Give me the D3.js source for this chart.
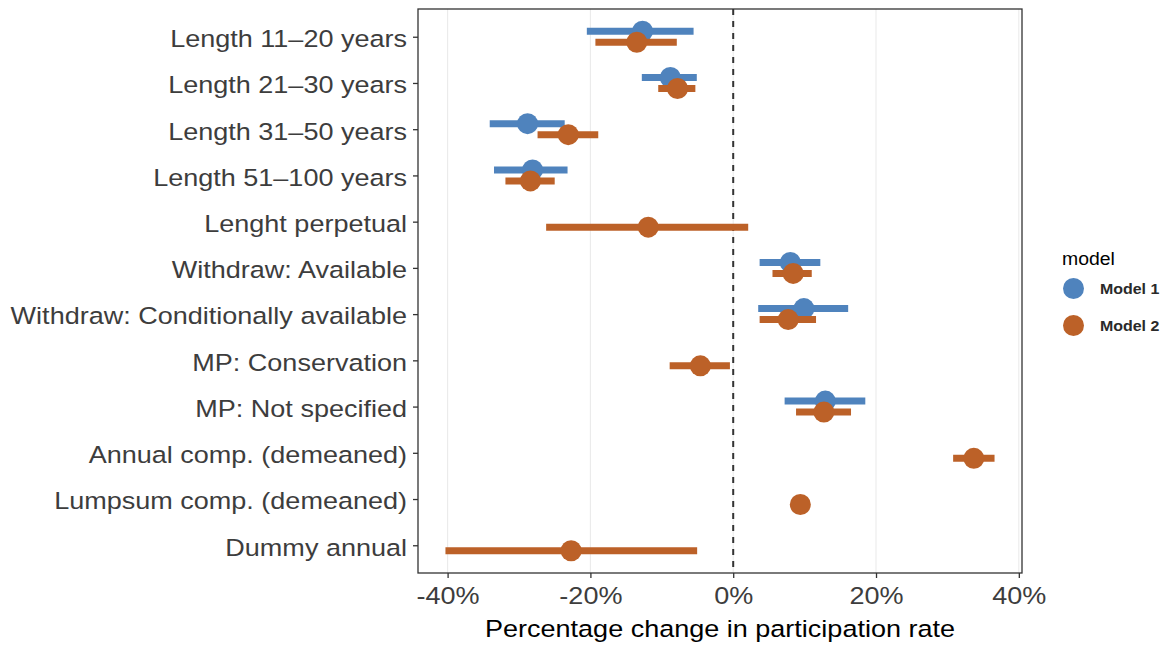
<!DOCTYPE html>
<html>
<head>
<meta charset="utf-8">
<script src="https://cdn.jsdelivr.net/npm/d3@7"></script>
<style>
  html, body { margin: 0; padding: 0; background: #fff; }
  text { font-family: "Liberation Sans", Arial, sans-serif; }
</style>
</head>
<body>
<svg id="chart" width="1165" height="645"></svg>
<script>
const categories = [
  "Length 11–20 years", "Length 21–30 years", "Length 31–50 years", "Length 51–100 years",
  "Lenght perpetual", "Withdraw: Available", "Withdraw: Conditionally available",
  "MP: Conservation", "MP: Not specified", "Annual comp. (demeaned)",
  "Lumpsum comp. (demeaned)", "Dummy annual"
];
const models = ["Model 1", "Model 2"];
const model1Est  = [-12.7, -8.8, -28.8, -28.1, null, 8.0, 9.9, null, 12.9, null, null, null];
const model1Low  = [-20.5, -12.8, -34.1, -33.5, null, 3.7, 3.5, null, 7.2, null, null, null];
const model1High = [-5.55, -5.1, -23.6, -23.2, null, 12.2, 16.1, null, 18.5, null, null, null];
const model2Est  = [-13.5, -7.8, -23.1, -28.4, -11.9, 8.4, 7.7, -4.6, 12.7, 33.7, 9.4, -22.7];
const model2Low  = [-19.3, -10.5, -27.4, -31.9, -26.2, 5.5, 3.7, -8.9, 8.8, 30.8, 8.7, -40.3];
const model2High = [-7.9, -5.3, -18.9, -25.0, 2.1, 11.0, 11.6, -0.46, 16.5, 36.6, 10.1, -5.05];
const xTicks = [-40, -20, 0, 20, 40];
const xTitle = "Percentage change in participation rate";
const legendTitle = "model";

const colors = { "Model 1": "#4F83BD", "Model 2": "#BC6128" };

const rows = [];
[[model1Est, model1Low, model1High, "Model 1"], [model2Est, model2Low, model2High, "Model 2"]].forEach(([e, l, h, m]) => {
  categories.forEach((c, i) => {
    if (e[i] !== null) rows.push({ cat: c, model: m, est: e[i], lo: l[i], hi: h[i] });
  });
});

const svg = d3.select("#chart");
svg.append("rect").attr("width", 1165).attr("height", 645).attr("fill", "#fff");

const panel = { left: 418, right: 1022, top: 9, bottom: 573 };
const lo = d3.min(rows, d => d.lo), hi = d3.max(rows, d => d.hi);
const pad = (hi - lo) * 0.05;
const x = d3.scaleLinear().domain([lo - pad, hi + pad]).range([panel.left, panel.right]);
const y = d3.scalePoint().domain(categories).range([panel.top, panel.bottom]).padding(0.6);
const dodge = d3.scalePoint().domain(models).range([-5.5, 5.5]);

const SX = 1.15; // horizontal text stretch of the reference
const FS = "23.5px";

// gridlines
svg.append("g").selectAll("line").data(xTicks).join("line")
  .attr("x1", d => x(d)).attr("x2", d => x(d))
  .attr("y1", panel.top).attr("y2", panel.bottom)
  .attr("stroke", "#ebebeb").attr("stroke-width", 1.1);

// zero reference line
svg.append("line")
  .attr("x1", x(0)).attr("x2", x(0)).attr("y1", panel.top).attr("y2", panel.bottom)
  .attr("stroke", "#333").attr("stroke-width", 2).attr("stroke-dasharray", "6,6");

// pointranges
const g = svg.append("g");
rows.forEach(d => {
  const yy = y(d.cat) + dodge(d.model);
  g.append("line")
    .attr("x1", x(d.lo)).attr("x2", x(d.hi)).attr("y1", yy).attr("y2", yy)
    .attr("stroke", colors[d.model]).attr("stroke-width", 7);
  g.append("circle")
    .attr("cx", x(d.est)).attr("cy", yy).attr("r", 10.5)
    .attr("fill", colors[d.model]);
});

// panel border
svg.append("rect")
  .attr("x", panel.left).attr("y", panel.top)
  .attr("width", panel.right - panel.left).attr("height", panel.bottom - panel.top)
  .attr("fill", "none").attr("stroke", "#333").attr("stroke-width", 1.3);

// x axis
const xAxis = svg.append("g").attr("transform", `translate(0,${panel.bottom})`)
  .call(d3.axisBottom(x).tickValues(xTicks).tickFormat(d => d + "%").tickSize(5).tickPadding(4));
xAxis.select(".domain").remove();
xAxis.selectAll(".tick line").attr("stroke", "#333").attr("stroke-width", 1.3);
xAxis.selectAll(".tick text")
  .attr("fill", "#3d3d3d").attr("font-size", FS)
  .attr("font-family", "Liberation Sans, Arial, sans-serif")
  .attr("transform", `scale(${SX},1)`).attr("x", 0).attr("dy", "0.95em");

// y axis
const yAxis = svg.append("g").attr("transform", `translate(${panel.left},0)`)
  .call(d3.axisLeft(y).tickSize(5).tickPadding(5));
yAxis.select(".domain").remove();
yAxis.selectAll(".tick line").attr("stroke", "#333").attr("stroke-width", 1.3);
yAxis.selectAll(".tick text")
  .attr("fill", "#3d3d3d").attr("font-size", FS)
  .attr("font-family", "Liberation Sans, Arial, sans-serif")
  .attr("x", -11 / SX).attr("dy", "0.42em")
  .attr("transform", `scale(${SX},1)`);

// x title
svg.append("text")
  .attr("transform", `translate(${(panel.left + panel.right) / 2},637) scale(${SX},1)`)
  .attr("text-anchor", "middle").attr("font-size", FS).attr("fill", "#000")
  .text(xTitle);

// legend
const leg = svg.append("g");
leg.append("text").attr("transform", `translate(1062,265) scale(1.05,1)`)
  .attr("font-size", "18.5px").attr("fill", "#000").text(legendTitle);
models.forEach((m, i) => {
  const cy = 288.5 + i * 37;
  leg.append("circle").attr("cx", 1073.5).attr("cy", cy).attr("r", 10.5).attr("fill", colors[m]);
  leg.append("text").attr("transform", `translate(1100,${cy + 5.5}) scale(1.1,1)`)
    .attr("font-size", "14.5px").attr("font-weight", "bold").attr("fill", "#2a2a2a").text(m);
});
</script>
</body>
</html>
